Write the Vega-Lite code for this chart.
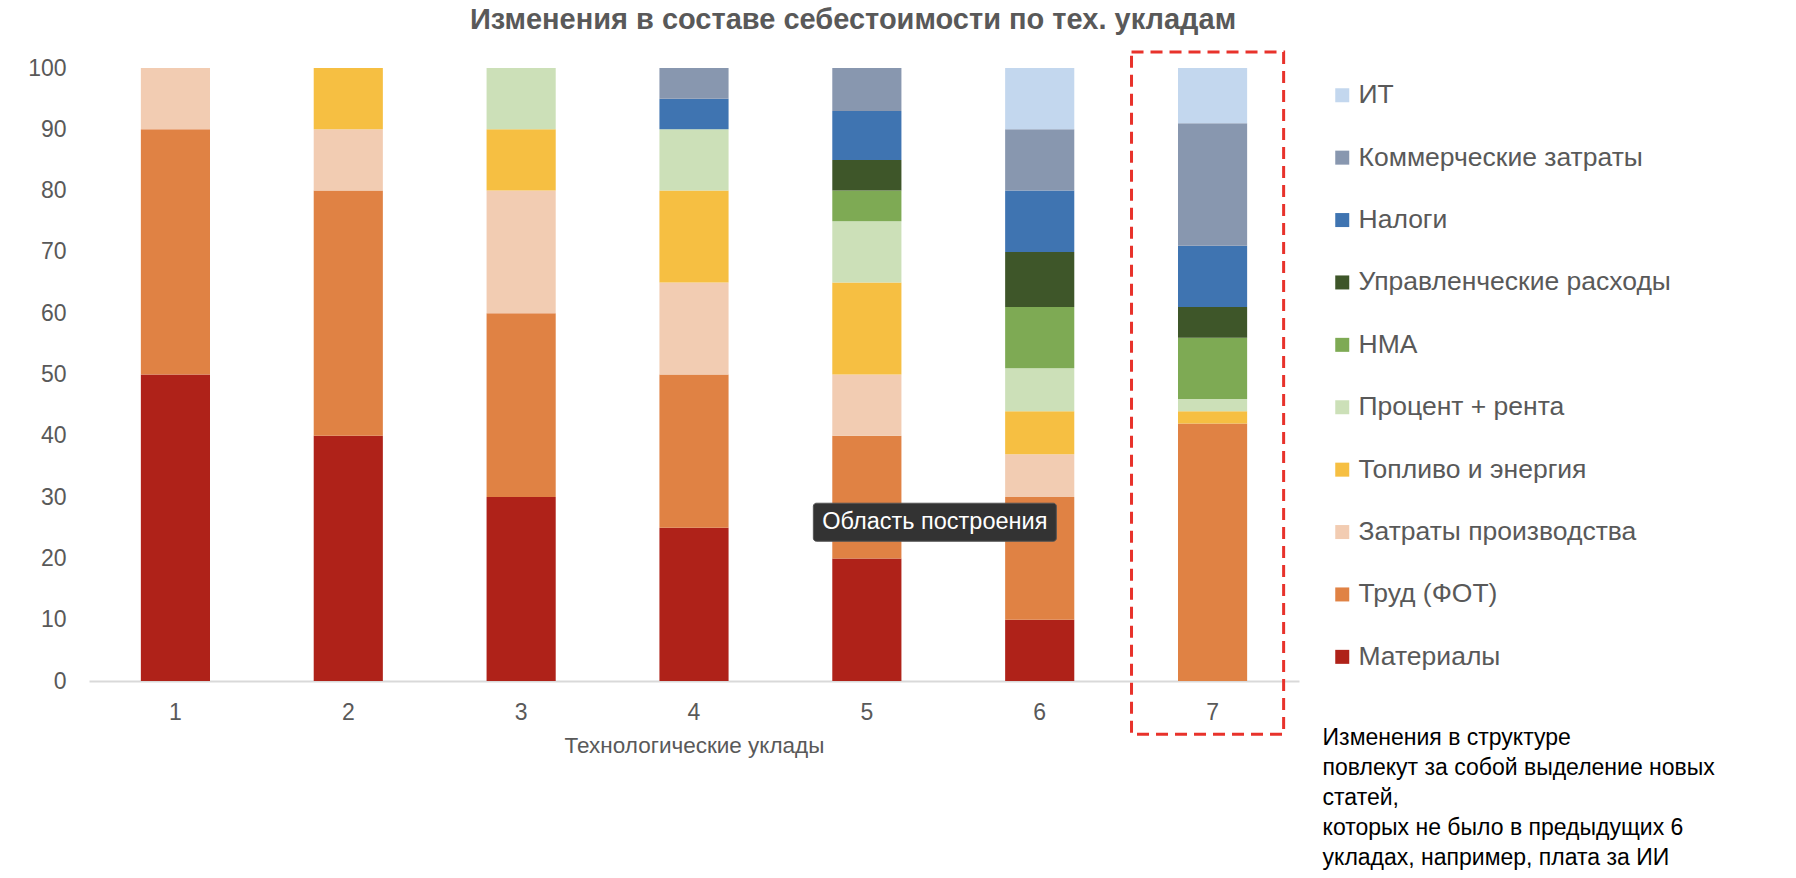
{
  "$schema": "https://vega.github.io/schema/vega-lite/v6.json",
  "autosize": {"type": "none"},
  "width": 1210,
  "height": 613,
  "padding": {"left": 89, "top": 68, "right": 497, "bottom": 197},
  "background": "white",
  "title": {
    "text": "Изменения в составе себестоимости по тех. укладам",
    "font": "Liberation Sans",
    "fontSize": 29,
    "fontWeight": "bold",
    "color": "#595959",
    "anchor": "middle",
    "frame": "group",
    "dx": 159,
    "offset": 16
  },
  "datasets": {
    "cats": [
      {"cat": "Материалы", "rank": 1},
      {"cat": "Труд (ФОТ)", "rank": 2},
      {"cat": "Затраты производства", "rank": 3},
      {"cat": "Топливо и энергия", "rank": 4},
      {"cat": "Процент + рента", "rank": 5},
      {"cat": "НМА", "rank": 6},
      {"cat": "Управленческие расходы", "rank": 7},
      {"cat": "Налоги", "rank": 8},
      {"cat": "Коммерческие затраты", "rank": 9},
      {"cat": "ИТ", "rank": 10}
    ],
    "costs": [
      {"uklad": "1", "cat": "Материалы", "value": 50},
      {"uklad": "1", "cat": "Труд (ФОТ)", "value": 40},
      {"uklad": "1", "cat": "Затраты производства", "value": 10},
      {"uklad": "2", "cat": "Материалы", "value": 40},
      {"uklad": "2", "cat": "Труд (ФОТ)", "value": 40},
      {"uklad": "2", "cat": "Затраты производства", "value": 10},
      {"uklad": "2", "cat": "Топливо и энергия", "value": 10},
      {"uklad": "3", "cat": "Материалы", "value": 30},
      {"uklad": "3", "cat": "Труд (ФОТ)", "value": 30},
      {"uklad": "3", "cat": "Затраты производства", "value": 20},
      {"uklad": "3", "cat": "Топливо и энергия", "value": 10},
      {"uklad": "3", "cat": "Процент + рента", "value": 10},
      {"uklad": "4", "cat": "Материалы", "value": 25},
      {"uklad": "4", "cat": "Труд (ФОТ)", "value": 25},
      {"uklad": "4", "cat": "Затраты производства", "value": 15},
      {"uklad": "4", "cat": "Топливо и энергия", "value": 15},
      {"uklad": "4", "cat": "Процент + рента", "value": 10},
      {"uklad": "4", "cat": "Налоги", "value": 5},
      {"uklad": "4", "cat": "Коммерческие затраты", "value": 5},
      {"uklad": "5", "cat": "Материалы", "value": 20},
      {"uklad": "5", "cat": "Труд (ФОТ)", "value": 20},
      {"uklad": "5", "cat": "Затраты производства", "value": 10},
      {"uklad": "5", "cat": "Топливо и энергия", "value": 15},
      {"uklad": "5", "cat": "Процент + рента", "value": 10},
      {"uklad": "5", "cat": "НМА", "value": 5},
      {"uklad": "5", "cat": "Управленческие расходы", "value": 5},
      {"uklad": "5", "cat": "Налоги", "value": 8},
      {"uklad": "5", "cat": "Коммерческие затраты", "value": 7},
      {"uklad": "6", "cat": "Материалы", "value": 10},
      {"uklad": "6", "cat": "Труд (ФОТ)", "value": 20},
      {"uklad": "6", "cat": "Затраты производства", "value": 7},
      {"uklad": "6", "cat": "Топливо и энергия", "value": 7},
      {"uklad": "6", "cat": "Процент + рента", "value": 7},
      {"uklad": "6", "cat": "НМА", "value": 10},
      {"uklad": "6", "cat": "Управленческие расходы", "value": 9},
      {"uklad": "6", "cat": "Налоги", "value": 10},
      {"uklad": "6", "cat": "Коммерческие затраты", "value": 10},
      {"uklad": "6", "cat": "ИТ", "value": 10},
      {"uklad": "7", "cat": "Труд (ФОТ)", "value": 42},
      {"uklad": "7", "cat": "Топливо и энергия", "value": 2},
      {"uklad": "7", "cat": "Процент + рента", "value": 2},
      {"uklad": "7", "cat": "НМА", "value": 10},
      {"uklad": "7", "cat": "Управленческие расходы", "value": 5},
      {"uklad": "7", "cat": "Налоги", "value": 10},
      {"uklad": "7", "cat": "Коммерческие затраты", "value": 20},
      {"uklad": "7", "cat": "ИТ", "value": 9}
    ]
  },
  "layer": [
    {
      "data": {"name": "costs"},
      "transform": [
        {"lookup": "cat", "from": {"data": {"name": "cats"}, "key": "cat", "fields": ["rank"]}}
      ],
      "mark": {"type": "bar"},
      "encoding": {
        "x": {
          "field": "uklad",
          "type": "ordinal",
          "scale": {"domain": ["1", "2", "3", "4", "5", "6", "7"], "paddingInner": 0.6, "paddingOuter": 0.3},
          "axis": {
            "title": "Технологические уклады",
            "labelAngle": 0,
            "ticks": false,
            "labelPadding": 20,
            "labelFontSize": 23,
            "labelColor": "#595959",
            "labelFont": "Liberation Sans",
            "domainColor": "#D9D9D9",
            "domainWidth": 2,
            "titleFont": "Liberation Sans",
            "titleFontSize": 22.5,
            "titleFontWeight": "normal",
            "titleColor": "#595959",
            "titlePadding": 10
          }
        },
        "y": {
          "field": "value",
          "type": "quantitative",
          "stack": "zero",
          "scale": {"domain": [0, 100], "nice": false},
          "axis": {
            "title": null,
            "values": [0, 10, 20, 30, 40, 50, 60, 70, 80, 90, 100],
            "grid": false,
            "domain": false,
            "ticks": false,
            "labelPadding": 23,
            "labelFontSize": 23,
            "labelColor": "#595959",
            "labelFont": "Liberation Sans"
          }
        },
        "order": {"field": "rank", "type": "quantitative", "sort": "ascending"},
        "color": {
          "field": "cat",
          "type": "nominal",
          "scale": {
            "domain": ["ИТ", "Коммерческие затраты", "Налоги", "Управленческие расходы", "НМА", "Процент + рента", "Топливо и энергия", "Затраты производства", "Труд (ФОТ)", "Материалы"],
            "range": ["#C3D7EE", "#8897AF", "#3F74B1", "#3E5629", "#7EAA54", "#CCE0B8", "#F6BF42", "#F2CCB2", "#E08244", "#AF2219"]
          },
          "legend": {
            "title": null,
            "orient": "none",
            "legendX": 1240,
            "legendY": 14,
            "direction": "vertical",
            "padding": 0,
            "rowPadding": 35.4,
            "symbolType": "square",
            "symbolSize": 196,
            "symbolStrokeWidth": 0,
            "labelOffset": 3,
            "labelFontSize": 26.5,
            "labelColor": "#595959",
            "labelFont": "Liberation Sans",
            "labelLimit": 0
          }
        }
      }
    },
    {
      "data": {"values": [{"uklad": "7", "lo": -8.7, "hi": 102.6}]},
      "mark": {"type": "bar", "fillOpacity": 0, "stroke": "#E8322B", "strokeWidth": 3, "strokeDash": [12, 7], "width": {"band": 2.2}, "xOffset": -5},
      "encoding": {
        "x": {"field": "uklad", "type": "ordinal"},
        "y": {"field": "lo", "type": "quantitative"},
        "y2": {"field": "hi"}
      }
    },
    {
      "data": {"values": [{"uklad": "5", "lo": 22.8, "hi": 29.0, "mid": 25.9, "label": "Область построения"}]},
      "layer": [
        {
          "mark": {"type": "bar", "fill": "#333333", "stroke": "#555555", "strokeWidth": 1, "cornerRadius": 3, "width": 243, "xOffset": 68},
          "encoding": {
            "x": {"field": "uklad", "type": "ordinal"},
            "y": {"field": "lo", "type": "quantitative"},
            "y2": {"field": "hi"}
          }
        },
        {
          "mark": {"type": "text", "color": "white", "font": "Liberation Sans", "fontSize": 23.5, "align": "center", "baseline": "middle", "dx": 68},
          "encoding": {
            "x": {"field": "uklad", "type": "ordinal"},
            "y": {"field": "mid", "type": "quantitative"},
            "text": {"field": "label"}
          }
        }
      ]
    },
    {
      "data": {"values": [{"uklad": "7", "pos": -7.5, "note": "Изменения в структуре\nповлекут за собой выделение новых\nстатей,\nкоторых не было в предыдущих 6\nукладах, например, плата за ИИ"}]},
      "mark": {"type": "text", "color": "black", "font": "Liberation Sans", "fontSize": 23, "align": "left", "baseline": "top", "lineHeight": 30, "lineBreak": "\n", "dx": 110},
      "encoding": {
        "x": {"field": "uklad", "type": "ordinal"},
        "y": {"field": "pos", "type": "quantitative"},
        "text": {"field": "note"}
      }
    }
  ],
  "config": {"view": {"stroke": null}}
}
